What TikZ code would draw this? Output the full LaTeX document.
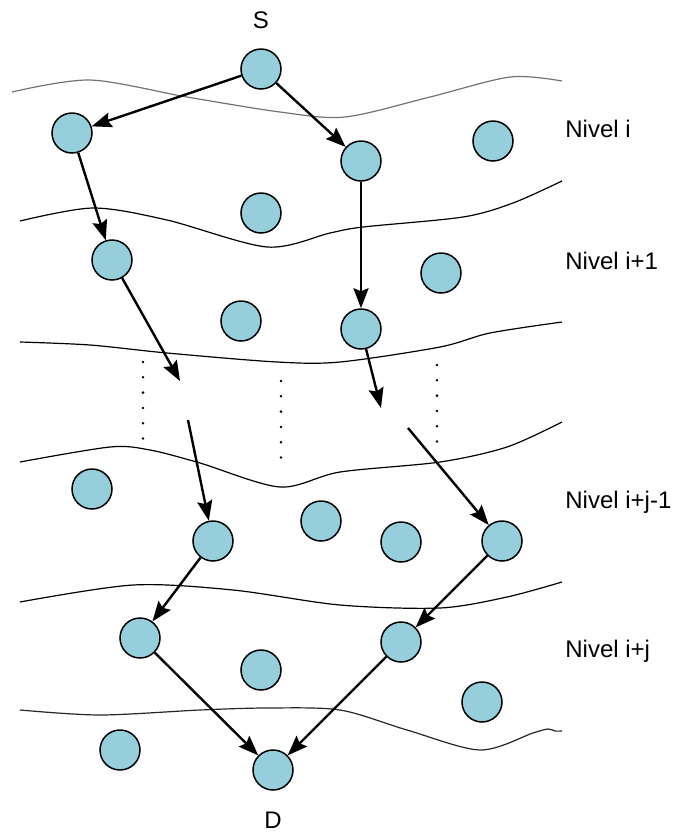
\documentclass[tikz,border=0pt]{standalone}
\usepackage{fontspec}
\setmainfont{Liberation Sans}
\usetikzlibrary{arrows.meta}
\definecolor{nodefill}{RGB}{150,206,220}

\begin{document}
\begin{tikzpicture}[x=0.5pt,y=-0.5pt,>={Stealth[length=10pt,width=7.5pt,inset=1.5pt]},
  nodo/.style={circle,draw,line width=0.75pt,fill=nodefill,minimum size=20pt,inner sep=0pt},
  link/.style={->,line width=1.2pt},
  frontier/.style={line width=0.6pt,smooth},
  lbl/.style={font=\fontsize{12}{14}\selectfont,inner sep=0pt}]
\useasboundingbox (0,0) rectangle (677,832);

% level boundaries
\draw[frontier,black!55] plot coordinates {(12,92) (90,80) (187,97) (280,112) (345,117) (430,97) (510,77) (562,81)};
\draw[frontier] plot coordinates {(20,221) (93,208) (167,220) (267,247) (330,233) (363,227) (463,217) (513,203) (562,181)};
\draw[frontier] plot coordinates {(20,342) (90,345) (167,353) (277,362) (340,362) (440,347) (490,333) (562,322)};
\draw[frontier] plot coordinates {(20,462) (110,447) (150,450) (200,463) (280,487) (340,472) (440,462) (507,447) (562,422)};
\draw[frontier] plot coordinates {(20,602) (133,585) (233,590) (340,605) (440,608) (507,597) (562,582)};
\draw[frontier,black!85] plot coordinates {(20,710) (100,715) (200,710) (267,708) (340,710) (407,730) (480,750) (533,733) (548,729) (555,731) (562,731)};

% skipped levels
\foreach \cx/\cy in {143/362,281/381,437/365}
  \foreach \k in {0,...,5} \fill (\cx,\cy+15.3*\k) circle[radius=0.7pt];

% nodes
\node[nodo] (S) at (261,69) {};
\node[nodo] (D) at (273,770) {};
\foreach \n/\x/\y in {a1/72/133,a2/361/161,a3/493/141,a4/261/213,
                      b1/112/260,b2/441/273,b3/241/321,b4/361/329,
                      c0/92/489,c1/213/541,c2/321/521,c3/401/542,c4/502/541,
                      d1/140/638,d2/261/670,d3/401/642,d4/482/702,d5/120/750}
  \node[nodo] (\n) at (\x,\y) {};

\node[lbl,anchor=base] (lS) at (261,28) {S};
\node[lbl,anchor=base] (lD) at (273,828) {D};
\node[lbl,anchor=base west] (l1) at (565,137) {Nivel i};
\node[lbl,anchor=base west] (l2) at (565,269) {Nivel i+1};
\node[lbl,anchor=base west] (l3) at (565,508) {Nivel i+j-1};
\node[lbl,anchor=base west] (l4) at (565,657) {Nivel i+j};

% route ends inside the gap
\coordinate (g1) at (180,381);
\coordinate (g2) at (381,408);
\coordinate (g3) at (188,420);
\coordinate (g4) at (408,428);

% routes
\draw[link] (S) -- (a1);
\draw[link] (S) -- (a2);
\draw[link] (a1) -- (b1);
\draw[link] (a2) -- (b4);
\draw[link] (b1) -- (g1);
\draw[link] (b4) -- (g2);
\draw[link] (g3) -- (c1);
\draw[link] (g4) -- (c4);
\draw[link] (c1) -- (d1);
\draw[link] (c4) -- (d3);
\draw[link] (d1) -- (D);
\draw[link] (d3) -- (D);
\end{tikzpicture}
\end{document}
